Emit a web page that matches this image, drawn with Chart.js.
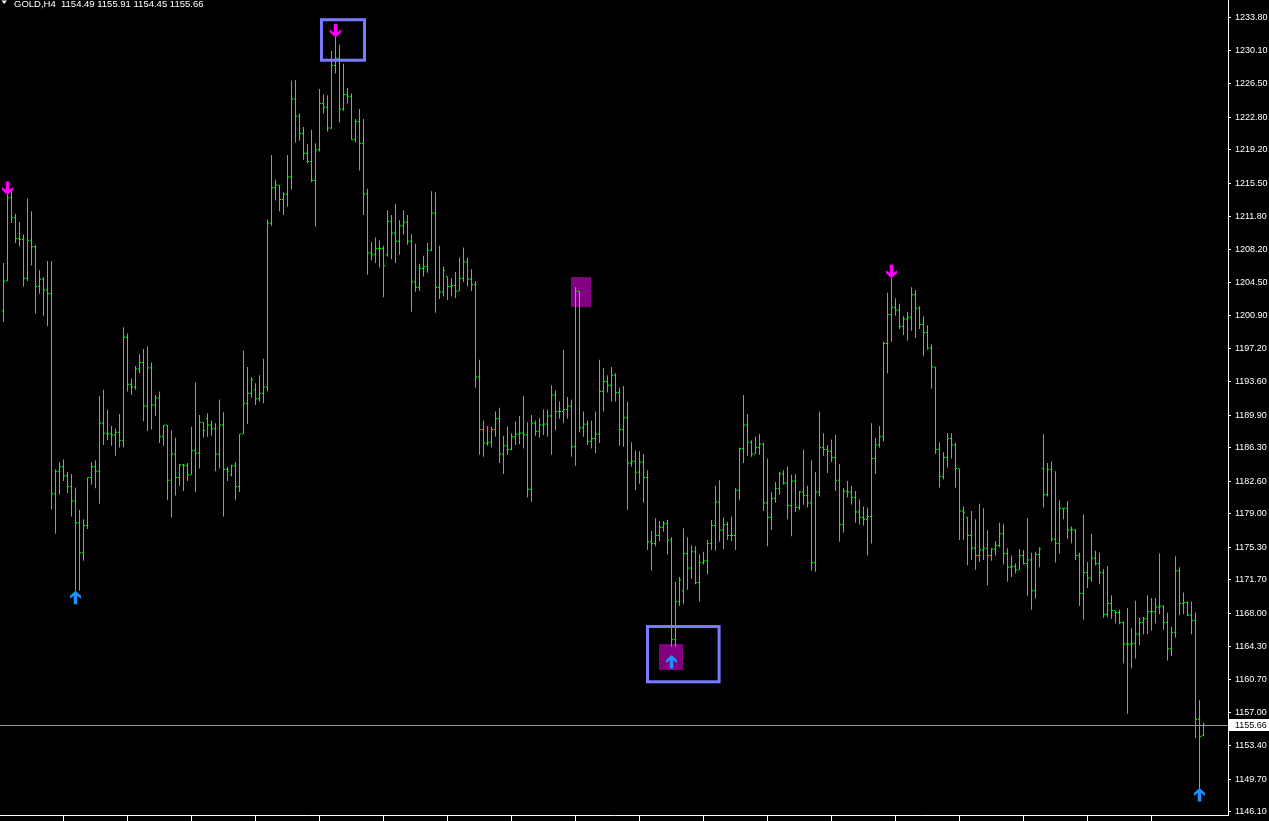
<!DOCTYPE html>
<html>
<head>
<meta charset="utf-8">
<title>GOLD,H4</title>
<script src="https://cdn.jsdelivr.net/npm/chart.js@4.4.0/dist/chart.umd.min.js"></script>
<style>
    html, body { margin: 0; padding: 0; background: #000; }
    #wrap { width: 1269px; height: 821px; position: relative; }
</style>
</head>
<body>
<div id="wrap"><canvas id="goldChart"></canvas></div>
<script>
// GOLD H4 bars, oldest first
const symbol = 'GOLD,H4';

const opens = [
    1201.4, 1204.7, 1213.9, 1211.7, 1209.4, 1209.3, 1205.0, 1209.2, 1208.5, 1204.1,
    1204.9, 1203.7, 1203.3, 1181.2, 1183.7, 1184.2, 1183.2, 1182.0, 1180.4, 1178.0,
    1174.7, 1177.7, 1183.0, 1184.2, 1183.7, 1189.0, 1187.9, 1187.8, 1187.7, 1188.0,
    1187.1, 1198.5, 1193.3, 1193.0, 1195.0, 1195.7, 1190.9, 1195.1, 1191.0, 1191.8,
    1187.5, 1188.8, 1182.7, 1185.6, 1183.0, 1184.4, 1184.3, 1183.3, 1186.0, 1185.7,
    1189.1, 1189.5, 1188.8, 1188.4, 1185.6, 1188.8, 1183.9, 1183.3, 1184.3, 1182.0,
    1187.8, 1191.2, 1192.3, 1192.7, 1191.7, 1192.3, 1193.0, 1211.1, 1215.0, 1215.3,
    1213.7, 1214.3, 1216.2, 1224.8, 1222.9, 1221.0, 1218.8, 1217.9, 1215.8, 1219.2,
    1224.3, 1223.9, 1221.6, 1228.5, 1229.3, 1223.7, 1225.3, 1225.1, 1220.3, 1222.3,
    1219.9, 1214.3, 1207.8, 1207.6, 1208.3, 1208.3, 1207.6, 1211.3, 1210.0, 1209.1,
    1210.8, 1211.2, 1209.1, 1204.6, 1204.0, 1206.1, 1206.3, 1208.1, 1212.2, 1204.0,
    1203.5, 1205.2, 1204.1, 1204.2, 1203.6, 1205.0, 1206.8, 1204.9, 1204.3, 1194.1,
    1188.3, 1186.8, 1186.9, 1188.3, 1189.5, 1185.6, 1186.5, 1186.1, 1187.5, 1187.8,
    1187.9, 1187.7, 1181.7, 1189.0, 1188.1, 1188.8, 1188.9, 1189.8, 1192.1, 1190.3,
    1190.3, 1190.5, 1190.9, 1186.4, 1203.6, 1188.5, 1188.9, 1187.0, 1187.3, 1187.8,
    1192.5, 1193.6, 1193.2, 1194.3, 1192.4, 1188.3, 1189.6, 1184.6, 1184.8, 1183.6,
    1184.7, 1183.0, 1175.9, 1175.7, 1176.6, 1177.5, 1177.9, 1176.1, 1165.1, 1169.3,
    1170.5, 1174.6, 1173.0, 1174.8, 1171.4, 1173.6, 1173.8, 1175.7, 1177.7, 1180.3,
    1177.2, 1177.8, 1176.6, 1176.6, 1181.6, 1186.2, 1188.8, 1186.9, 1185.6, 1186.3,
    1186.7, 1180.2, 1178.6, 1180.7, 1181.8, 1183.4, 1182.4, 1179.9, 1182.6, 1179.7,
    1181.4, 1181.0, 1180.2, 1173.6, 1181.4, 1186.3, 1186.1, 1185.9, 1185.2, 1182.7,
    1177.8, 1181.5, 1181.4, 1180.8, 1179.2, 1178.6, 1178.4, 1178.7, 1185.1, 1186.6,
    1187.5, 1197.8, 1201.0, 1201.8, 1201.5, 1199.7, 1200.5, 1200.7, 1203.2, 1201.7,
    1199.9, 1199.0, 1197.3, 1195.2, 1186.1, 1183.1, 1185.2, 1187.3, 1186.6, 1184.0,
    1179.3, 1178.6, 1176.6, 1175.2, 1174.4, 1175.0, 1175.2, 1174.4, 1175.1, 1175.5,
    1176.8, 1174.6, 1173.1, 1173.2, 1172.8, 1174.4, 1173.5, 1173.9, 1170.5, 1174.5,
    1184.0, 1181.1, 1183.9, 1176.2, 1175.7, 1179.6, 1179.6, 1177.2, 1177.2, 1174.4,
    1170.2, 1172.5, 1171.9, 1174.1, 1173.5, 1172.5, 1167.9, 1169.1, 1168.3, 1168.1,
    1167.0, 1164.6, 1164.6, 1164.7, 1165.7, 1167.0, 1167.4, 1168.2, 1168.2, 1168.7,
    1168.8, 1167.0, 1164.1, 1165.9, 1172.7, 1169.1, 1169.2, 1167.8, 1167.2, 1156.3,
    1154.49
];

const highs = [
    1206.7, 1214.8, 1214.8, 1212.1, 1211.2, 1209.8, 1213.8, 1212.4, 1208.7, 1205.9,
    1205.1, 1206.9, 1206.9, 1183.9, 1184.7, 1185.0, 1183.6, 1183.4, 1181.9, 1179.4,
    1178.4, 1183.0, 1184.7, 1184.9, 1192.0, 1192.7, 1190.5, 1188.7, 1188.4, 1190.0,
    1199.6, 1198.9, 1193.9, 1195.3, 1196.6, 1197.2, 1197.5, 1195.7, 1192.1, 1192.5,
    1188.8, 1188.8, 1188.2, 1187.4, 1184.5, 1184.5, 1184.6, 1188.6, 1193.5, 1189.9,
    1189.1, 1190.1, 1189.3, 1189.0, 1191.6, 1190.2, 1184.2, 1184.4, 1184.7, 1187.8,
    1197.0, 1195.2, 1194.1, 1193.4, 1194.3, 1196.1, 1211.5, 1218.6, 1215.9, 1215.3,
    1214.5, 1218.6, 1226.8, 1226.9, 1223.2, 1221.7, 1219.8, 1221.4, 1219.9, 1225.9,
    1225.3, 1225.2, 1230.1, 1232.1, 1230.8, 1228.7, 1226.0, 1225.4, 1222.6, 1223.7,
    1222.6, 1214.9, 1209.0, 1209.5, 1209.2, 1208.6, 1212.5, 1212.0, 1213.2, 1211.4,
    1212.5, 1212.0, 1209.9, 1208.8, 1206.6, 1207.5, 1208.9, 1214.6, 1214.5, 1208.6,
    1206.3, 1205.2, 1205.0, 1205.7, 1207.3, 1208.4, 1207.3, 1206.0, 1204.7, 1196.0,
    1189.3, 1188.7, 1188.6, 1190.3, 1190.7, 1187.6, 1188.6, 1187.9, 1189.2, 1189.8,
    1192.0, 1189.1, 1189.9, 1189.3, 1189.6, 1190.5, 1190.5, 1193.2, 1192.6, 1191.4,
    1197.1, 1191.9, 1191.6, 1204.0, 1203.6, 1190.3, 1189.3, 1189.3, 1190.3, 1196.0,
    1195.1, 1194.3, 1195.2, 1194.5, 1192.9, 1193.1, 1191.4, 1186.9, 1186.0, 1185.9,
    1185.6, 1183.8, 1177.1, 1178.5, 1178.2, 1178.2, 1178.3, 1176.4, 1171.5, 1172.0,
    1177.4, 1176.4, 1175.5, 1175.4, 1174.5, 1174.8, 1176.1, 1178.3, 1182.1, 1182.7,
    1178.6, 1178.1, 1178.7, 1181.8, 1186.3, 1192.1, 1190.0, 1187.1, 1187.5, 1187.8,
    1186.8, 1185.1, 1181.4, 1182.5, 1183.6, 1183.8, 1184.2, 1183.3, 1183.4, 1181.5,
    1186.1, 1182.1, 1184.9, 1183.6, 1190.3, 1187.9, 1186.6, 1187.2, 1187.7, 1184.5,
    1181.8, 1182.6, 1182.1, 1181.5, 1180.6, 1179.8, 1179.7, 1189.0, 1187.4, 1188.7,
    1198.0, 1203.4, 1205.0, 1202.8, 1202.2, 1200.8, 1201.3, 1204.0, 1203.7, 1201.9,
    1200.8, 1199.8, 1197.7, 1195.2, 1186.9, 1185.8, 1187.9, 1187.9, 1186.8, 1184.0,
    1179.8, 1178.6, 1179.3, 1178.4, 1180.1, 1179.6, 1177.2, 1175.2, 1176.0, 1178.0,
    1177.9, 1175.2, 1174.4, 1173.5, 1175.1, 1175.0, 1178.5, 1174.7, 1174.8, 1175.3,
    1187.8, 1184.6, 1184.8, 1183.7, 1180.5, 1179.6, 1180.4, 1177.6, 1177.3, 1174.7,
    1178.9, 1173.7, 1176.8, 1174.9, 1174.7, 1172.9, 1173.2, 1170.0, 1168.3, 1168.4,
    1167.1, 1168.6, 1166.4, 1169.4, 1167.5, 1167.6, 1170.0, 1169.7, 1169.7, 1174.6,
    1168.9, 1168.1, 1166.5, 1174.3, 1173.1, 1170.3, 1169.3, 1169.3, 1168.1, 1158.4,
    1155.91
];

const lows = [
    1200.2, 1204.7, 1211.1, 1208.9, 1208.5, 1204.1, 1204.7, 1206.4, 1201.1, 1203.3,
    1200.8, 1199.7, 1179.5, 1176.8, 1181.1, 1182.6, 1181.3, 1178.7, 1170.5, 1170.5,
    1173.8, 1177.3, 1182.2, 1181.8, 1180.1, 1186.6, 1187.1, 1186.5, 1185.4, 1186.3,
    1186.3, 1192.5, 1192.1, 1192.7, 1194.5, 1189.2, 1188.1, 1188.3, 1189.8, 1186.8,
    1186.5, 1180.5, 1178.6, 1181.0, 1182.1, 1181.5, 1182.6, 1183.3, 1181.4, 1184.0,
    1187.4, 1187.5, 1187.6, 1183.7, 1184.0, 1178.7, 1182.6, 1183.1, 1180.5, 1181.4,
    1187.8, 1188.9, 1191.8, 1191.0, 1191.4, 1191.2, 1192.5, 1210.8, 1213.6, 1212.4,
    1212.0, 1212.9, 1214.8, 1220.0, 1220.2, 1218.1, 1217.7, 1215.6, 1210.7, 1219.0,
    1223.2, 1221.2, 1221.5, 1227.6, 1222.2, 1223.5, 1224.3, 1220.3, 1220.0, 1216.9,
    1212.0, 1205.4, 1207.0, 1206.7, 1206.2, 1202.9, 1207.4, 1207.1, 1206.7, 1207.6,
    1209.8, 1208.7, 1201.3, 1203.5, 1203.6, 1205.2, 1205.6, 1208.0, 1201.2, 1202.7,
    1203.0, 1202.6, 1203.0, 1202.8, 1203.6, 1204.6, 1204.1, 1203.6, 1192.9, 1185.5,
    1185.3, 1186.5, 1186.3, 1187.5, 1184.6, 1183.4, 1185.5, 1186.0, 1186.6, 1186.7,
    1186.2, 1180.8, 1180.3, 1187.6, 1187.4, 1187.7, 1187.5, 1185.5, 1188.2, 1189.5,
    1189.0, 1189.5, 1185.3, 1184.3, 1188.0, 1187.5, 1186.6, 1186.2, 1185.7, 1186.8,
    1190.3, 1192.4, 1191.4, 1191.4, 1186.5, 1186.4, 1179.4, 1184.2, 1181.6, 1182.3,
    1180.2, 1175.0, 1172.7, 1175.4, 1176.0, 1177.0, 1174.5, 1164.3, 1164.3, 1168.8,
    1169.0, 1170.6, 1171.8, 1171.2, 1169.3, 1173.4, 1172.3, 1175.0, 1174.9, 1175.9,
    1175.1, 1176.1, 1176.0, 1175.0, 1180.5, 1184.6, 1185.4, 1185.3, 1185.6, 1185.5,
    1179.3, 1175.4, 1177.2, 1180.2, 1181.1, 1182.2, 1178.4, 1176.5, 1179.2, 1179.4,
    1180.0, 1179.7, 1172.7, 1172.6, 1180.9, 1185.4, 1183.5, 1184.7, 1181.5, 1175.9,
    1176.9, 1180.8, 1180.0, 1178.0, 1177.8, 1177.7, 1174.4, 1175.7, 1183.4, 1186.3,
    1187.0, 1194.5, 1198.0, 1200.9, 1199.4, 1198.7, 1198.1, 1199.2, 1198.4, 1199.4,
    1196.4, 1197.1, 1192.8, 1185.6, 1181.9, 1182.8, 1184.1, 1185.1, 1181.9, 1176.1,
    1176.1, 1173.3, 1173.9, 1172.8, 1173.7, 1173.9, 1171.1, 1173.8, 1174.4, 1175.3,
    1173.4, 1171.5, 1172.0, 1172.4, 1172.8, 1173.4, 1169.9, 1168.4, 1169.6, 1173.1,
    1179.7, 1180.9, 1175.9, 1173.6, 1174.6, 1178.4, 1176.2, 1175.7, 1173.9, 1168.8,
    1167.3, 1170.8, 1171.5, 1173.3, 1171.2, 1167.5, 1167.6, 1167.4, 1166.9, 1166.8,
    1162.5, 1156.9, 1161.9, 1163.0, 1164.5, 1165.7, 1165.7, 1166.1, 1166.9, 1167.9,
    1166.2, 1162.8, 1163.3, 1165.3, 1167.8, 1167.9, 1167.7, 1165.7, 1154.2, 1148.6,
    1154.45
];

const closes = [
    1204.7, 1213.9, 1211.7, 1209.4, 1209.3, 1205.0, 1209.2, 1208.5, 1204.1, 1204.9,
    1203.7, 1203.3, 1181.2, 1183.7, 1184.2, 1183.2, 1182.0, 1180.4, 1178.0, 1174.7,
    1177.7, 1183.0, 1184.2, 1183.7, 1189.0, 1187.9, 1187.8, 1187.7, 1188.0, 1187.1,
    1198.5, 1193.3, 1193.0, 1195.0, 1195.7, 1190.9, 1195.1, 1191.0, 1191.8, 1187.5,
    1188.8, 1182.7, 1185.6, 1183.0, 1184.4, 1184.3, 1183.3, 1186.0, 1185.7, 1189.1,
    1188.2, 1188.8, 1188.4, 1185.6, 1188.8, 1183.9, 1183.7, 1184.3, 1182.0, 1187.8,
    1191.2, 1192.3, 1193.8, 1191.7, 1192.3, 1193.0, 1211.1, 1215.0, 1215.3, 1213.7,
    1214.3, 1216.2, 1224.8, 1222.9, 1221.0, 1218.8, 1217.9, 1215.8, 1219.2, 1224.3,
    1223.9, 1221.6, 1228.5, 1229.3, 1223.7, 1225.3, 1225.1, 1220.3, 1222.3, 1219.9,
    1214.3, 1207.8, 1207.6, 1208.3, 1208.3, 1206.4, 1211.3, 1210.0, 1209.1, 1210.8,
    1211.2, 1209.1, 1204.6, 1204.0, 1206.1, 1206.3, 1208.1, 1212.2, 1204.0, 1203.5,
    1205.9, 1204.1, 1204.2, 1203.6, 1205.0, 1206.8, 1204.9, 1204.3, 1194.1, 1188.3,
    1186.8, 1186.9, 1188.3, 1189.5, 1185.6, 1186.5, 1186.1, 1187.5, 1187.8, 1187.9,
    1187.7, 1181.7, 1189.0, 1188.1, 1188.8, 1188.9, 1189.8, 1192.1, 1190.3, 1190.3,
    1190.5, 1190.9, 1186.4, 1203.6, 1188.5, 1188.9, 1187.0, 1187.3, 1187.8, 1192.5,
    1193.6, 1193.2, 1194.3, 1192.4, 1188.3, 1189.6, 1184.6, 1184.8, 1183.6, 1184.7,
    1183.0, 1175.9, 1175.7, 1176.6, 1177.5, 1177.9, 1176.1, 1165.1, 1169.3, 1171.7,
    1174.6, 1173.0, 1174.8, 1171.4, 1173.6, 1173.8, 1175.7, 1177.7, 1180.3, 1177.2,
    1177.8, 1176.6, 1176.6, 1181.6, 1186.2, 1188.8, 1186.9, 1185.6, 1186.3, 1186.7,
    1180.2, 1178.6, 1180.7, 1181.8, 1183.4, 1182.4, 1179.9, 1182.6, 1179.7, 1181.4,
    1181.0, 1180.2, 1173.6, 1181.4, 1186.3, 1186.1, 1185.9, 1185.2, 1182.7, 1177.8,
    1181.5, 1181.4, 1180.8, 1179.2, 1178.6, 1178.4, 1178.7, 1185.1, 1186.6, 1187.5,
    1197.8, 1201.0, 1201.8, 1201.5, 1199.7, 1200.5, 1200.7, 1203.2, 1201.7, 1199.9,
    1199.0, 1197.3, 1195.2, 1186.1, 1183.1, 1185.2, 1187.3, 1186.6, 1184.0, 1179.3,
    1179.1, 1176.6, 1175.2, 1174.4, 1175.0, 1175.2, 1174.4, 1175.1, 1175.5, 1176.8,
    1174.6, 1173.1, 1173.2, 1172.8, 1174.4, 1173.5, 1173.9, 1170.5, 1174.5, 1175.1,
    1181.1, 1183.9, 1176.2, 1175.7, 1179.6, 1179.6, 1177.2, 1177.2, 1174.4, 1170.2,
    1172.5, 1171.9, 1174.1, 1173.5, 1172.5, 1167.9, 1169.1, 1168.3, 1168.1, 1167.0,
    1164.6, 1164.6, 1164.7, 1165.7, 1167.0, 1167.4, 1168.2, 1168.2, 1168.7, 1168.8,
    1167.0, 1164.1, 1165.9, 1172.7, 1169.1, 1169.2, 1167.8, 1167.2, 1156.3, 1154.4,
    1155.66
];

// price scale labels on the right
const priceTicks = [
    1146.10, 1149.70, 1153.40, 1157.00, 1160.70, 1164.30, 1168.00, 1171.70, 1175.30,
    1179.00, 1182.60, 1186.30, 1189.90, 1193.60, 1197.20, 1200.90, 1204.50, 1208.20,
    1211.80, 1215.50, 1219.20, 1222.80, 1226.50, 1230.10, 1233.80
];

// bars carrying a time mark on the bottom axis
const timeTicks = [15, 31, 47, 63, 79, 95, 111, 127, 143, 159, 175, 191, 207, 223, 239, 255, 271, 287];

// indicator arrows (bar index, price at arrow tip)
const sellBars = [1, 83, 222];
const sellPrices = [1214.2, 1231.6, 1205.0];
const buyBars = [18, 167, 299];
const buyPrices = [1170.5, 1163.4, 1148.7];

// objects drawn on the chart, in bar / price units
const zones = [
    { from: 141.875, to: 146.875, top: 1205.14, bottom: 1201.82 },
    { from: 163.875, to: 169.875, top: 1164.61, bottom: 1161.74 }
];
const frames = [
    { from: 79.5, to: 90.25, top: 1233.55, bottom: 1229.08 },
    { from: 161.0, to: 178.9, top: 1166.54, bottom: 1160.44 }
];

const barColor = '#00ff00';
const axisColor = '#ffffff';
const labelFont = '9px "Liberation Sans", Arial, sans-serif';

function tickMark(side) {
    const c = document.createElement('canvas');
    c.width = 5;
    c.height = 3;
    const g = c.getContext('2d');
    g.fillStyle = barColor;
    g.fillRect(side === 'open' ? 1 : 3, 1, 1, 1);
    return c;
}

function drawArrow(ctx, x, tipY, up, color) {
    const pts = [[0, 0], [5.5, 5], [5.5, 8], [1.8, 5], [1.8, 13.5], [-1.8, 13.5], [-1.8, 5], [-5.5, 8], [-5.5, 5]];
    ctx.fillStyle = color;
    ctx.beginPath();
    pts.forEach(function(p, i) {
        const px = x + p[0];
        const py = up ? tipY + p[1] : tipY - p[1];
        if (i === 0) ctx.moveTo(px, py); else ctx.lineTo(px, py);
    });
    ctx.closePath();
    ctx.fill();
}

function noPadding(scale) {
    scale.paddingTop = 0;
    scale.paddingBottom = 0;
    scale.paddingLeft = 0;
    scale.paddingRight = 0;
}

const mt4Overlay = {
    id: 'mt4Overlay',
    beforeDatasetsDraw(chart) {
        const { ctx, chartArea, scales } = chart;
        const x = scales.x, y = scales.y;
        ctx.save();
        ctx.fillStyle = '#800080';
        zones.forEach(function(z) {
            const x1 = x.getPixelForValue(z.from), x2 = x.getPixelForValue(z.to);
            const y1 = y.getPixelForValue(z.top), y2 = y.getPixelForValue(z.bottom);
            ctx.fillRect(x1, y1, x2 - x1, y2 - y1);
        });
        // bid line
        const py = Math.round(y.getPixelForValue(closes[closes.length - 1])) + 0.5;
        ctx.strokeStyle = '#969696';
        ctx.lineWidth = 1;
        ctx.beginPath();
        ctx.moveTo(chartArea.left, py);
        ctx.lineTo(chartArea.right, py);
        ctx.stroke();
        ctx.restore();
    },
    afterDatasetsDraw(chart) {
        const { ctx, scales } = chart;
        const x = scales.x, y = scales.y;
        ctx.save();
        ctx.strokeStyle = '#7b7bff';
        ctx.lineWidth = 3;
        frames.forEach(function(f) {
            const x1 = x.getPixelForValue(f.from), x2 = x.getPixelForValue(f.to);
            const y1 = y.getPixelForValue(f.top), y2 = y.getPixelForValue(f.bottom);
            ctx.strokeRect(x1, y1, x2 - x1, y2 - y1);
        });
        sellBars.forEach(function(b, i) {
            drawArrow(ctx, x.getPixelForValue(b), y.getPixelForValue(sellPrices[i]), false, '#ff00ff');
        });
        buyBars.forEach(function(b, i) {
            drawArrow(ctx, x.getPixelForValue(b), y.getPixelForValue(buyPrices[i]), true, '#1e90ff');
        });
        ctx.restore();
    },
    afterDraw(chart) {
        const { ctx, chartArea, scales } = chart;
        const last = closes.length - 1;
        const py = Math.round(scales.y.getPixelForValue(closes[last]));
        ctx.save();
        // current price label
        ctx.fillStyle = '#ffffff';
        ctx.fillRect(chartArea.right + 1, py - 6, chart.width - chartArea.right - 1, 12);
        ctx.fillStyle = '#000000';
        ctx.font = labelFont;
        ctx.textBaseline = 'middle';
        ctx.fillText(closes[last].toFixed(2), chartArea.right + 7, py + 0.5);
        // header
        ctx.fillStyle = '#ffffff';
        ctx.beginPath();
        ctx.moveTo(1.5, 0.5);
        ctx.lineTo(7, 0.5);
        ctx.lineTo(4.25, 4);
        ctx.closePath();
        ctx.fill();
        ctx.font = '9.5px "Liberation Sans", Arial, sans-serif';
        ctx.textBaseline = 'alphabetic';
        const head = symbol + '  ' + [opens[last], highs[last], lows[last], closes[last]].map(v => v.toFixed(2)).join(' ');
        ctx.fillText(head, 14, 6.5);
        ctx.restore();
    }
};

document.addEventListener('DOMContentLoaded', function() {
    const ctx = document.getElementById('goldChart').getContext('2d');
    const idx = highs.map((h, i) => i);

    new Chart(ctx, {
        type: 'bar',
        data: {
            datasets: [
                {
                    type: 'bar',
                    data: idx.map(i => ({ x: i, y: [lows[i], highs[i]] })),
                    backgroundColor: barColor,
                    borderWidth: 0,
                    barThickness: 1,
                    inflateAmount: 0
                },
                {
                    type: 'scatter',
                    data: idx.map(i => ({ x: i, y: opens[i] })),
                    pointStyle: tickMark('open'),
                    pointRadius: 1,
                    pointHoverRadius: 1
                },
                {
                    type: 'scatter',
                    data: idx.map(i => ({ x: i, y: closes[i] })),
                    pointStyle: tickMark('close'),
                    pointRadius: 1,
                    pointHoverRadius: 1
                }
            ]
        },
        options: {
            responsive: true,
            maintainAspectRatio: false,
            animation: false,
            events: [],
            layout: { padding: 0, autoPadding: false },
            plugins: {
                legend: { display: false },
                tooltip: { enabled: false }
            },
            scales: {
                x: {
                    type: 'linear',
                    min: -0.875,
                    max: 306.125,
                    offset: false,
                    grid: {
                        offset: false,
                        drawOnChartArea: false,
                        drawTicks: true,
                        tickLength: 6,
                        color: axisColor
                    },
                    border: { display: true, color: axisColor },
                    ticks: { display: false },
                    afterBuildTicks: function(scale) {
                        scale.ticks = timeTicks.map(v => ({ value: v }));
                    },
                    afterFit: function(scale) {
                        scale.height = 6;
                        noPadding(scale);
                    }
                },
                y: {
                    position: 'right',
                    min: 1145.73,
                    max: 1235.73,
                    grid: {
                        drawOnChartArea: false,
                        tickLength: 3,
                        color: axisColor
                    },
                    border: { display: true, color: axisColor },
                    ticks: {
                        color: '#ffffff',
                        padding: 4,
                        autoSkip: false,
                        font: { family: '"Liberation Sans", Arial, sans-serif', size: 9 },
                        callback: function(value) {
                            return Number(value).toFixed(2);
                        }
                    },
                    afterBuildTicks: function(scale) {
                        scale.ticks = priceTicks.map(v => ({ value: v }));
                    },
                    afterFit: function(scale) {
                        scale.width = 41;
                        noPadding(scale);
                    }
                }
            }
        },
        plugins: [mt4Overlay]
    });
});
</script>
</body>
</html>
